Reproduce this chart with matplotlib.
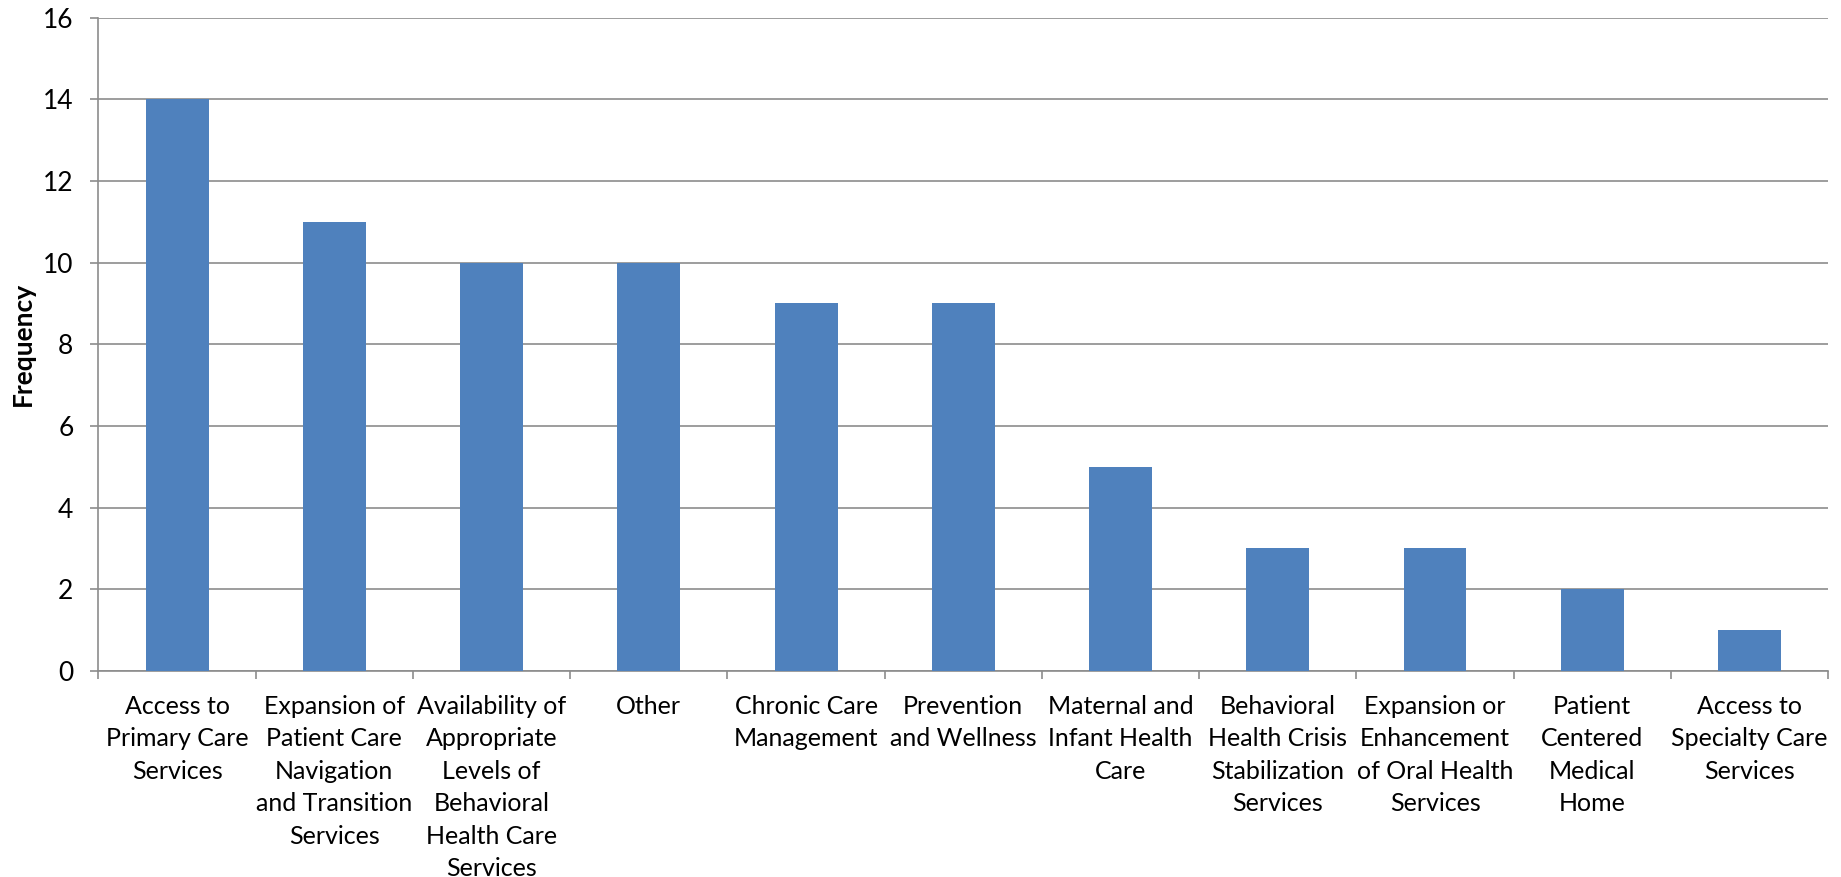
import numpy as np
import matplotlib.pyplot as plt

categories = [
    "Access to\nPrimary Care\nServices",
    "Expansion of\nPatient Care\nNavigation\nand Transition\nServices",
    "Availability of\nAppropriate\nLevels of\nBehavioral\nHealth Care\nServices",
    "Other",
    "Chronic Care\nManagement",
    "Prevention\nand Wellness",
    "Maternal and\nInfant Health\nCare",
    "Behavioral\nHealth Crisis\nStabilization\nServices",
    "Expansion or\nEnhancement\nof Oral Health\nServices",
    "Patient\nCentered\nMedical\nHome",
    "Access to\nSpecialty Care\nServices",
]
frequency = [14, 11, 10, 10, 9, 9, 5, 3, 3, 2, 1]
yticks = [0, 2, 4, 6, 8, 10, 12, 14, 16]

plt.rcParams['font.family'] = ['Lato', 'DejaVu Sans']

fig = plt.figure(figsize=(18.41, 8.77), dpi=100)
ax = fig.add_axes([0.0535, 0.2349, 0.9395, 0.7451])

x = np.arange(len(categories))
ax.bar(x, frequency, width=0.4, color='#4F81BD', zorder=3)

ax.set_xlim(-0.5, len(categories) - 0.5)
ax.set_ylim(0, 16)
ax.set_yticks(yticks)
ax.yaxis.grid(True, color='#8c8c8c', linewidth=1.2, zorder=0)

ax.set_xticks(x)
ax.set_xticklabels(categories, fontsize=18, linespacing=1.5)
ax.set_xticks(np.arange(len(categories) + 1) - 0.5, minor=True)
ax.tick_params(axis='x', which='major', length=0, pad=17)
ax.tick_params(axis='x', which='minor', length=6, width=1.2, color='#8c8c8c', direction='out')
ax.tick_params(axis='y', length=6, width=1.2, color='#8c8c8c', labelsize=19, pad=12)

for s in ['top', 'right']:
    ax.spines[s].set_visible(False)
for s in ['left', 'bottom']:
    ax.spines[s].set_color('#8c8c8c')
    ax.spines[s].set_linewidth(1.2)

ax.set_ylabel('Frequency', fontsize=19, fontweight='bold', labelpad=6)

fig.savefig('out.png', dpi=100)
